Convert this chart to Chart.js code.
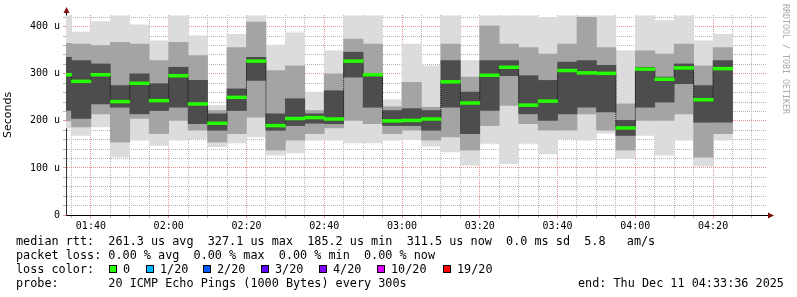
<!DOCTYPE html>
<html>
<head>
<meta charset="utf-8">
<script src="https://cdn.jsdelivr.net/npm/chart.js@4.4.1/dist/chart.umd.min.js"></script>
<style>
  html, body { margin: 0; padding: 0; background: #fff; }
  #wrap { position: relative; width: 797px; height: 297px; overflow: hidden; }
  #chart { position: absolute; left: 0; top: 0; }
  .txt { position: absolute; font-family: 'DejaVu Sans Mono', monospace; font-size: 11.8px; line-height: 14px; white-space: pre; color: #000; }
  .sq { position: absolute; top: 265px; width: 8px; height: 8px; box-sizing: border-box; border: 1px solid #000; }
  #credit { position: absolute; left: 781px; top: 4px; font-family: 'DejaVu Sans Mono', monospace; font-size: 8.3px; line-height: 10px; color: #aaa; writing-mode: vertical-rl; white-space: pre; }
</style>
</head>
<body>
<div id="wrap">
  <canvas id="chart" width="797" height="297"></canvas>
  <div id="credit">RRDTOOL / TOBI OETIKER</div>
  <div class="txt" style="left:16px; top:234px;">median rtt:  261.3 us avg  327.1 us max  185.2 us min  311.5 us now  0.0 ms sd  5.8   am/s</div>
  <div class="txt" style="left:16px; top:248px;">packet loss: 0.00 % avg  0.00 % max  0.00 % min  0.00 % now</div>
  <div class="txt" style="left:16px; top:262px;">loss color:</div>
  <div id="lossKey"></div>
  <div class="txt" style="left:16px; top:276px;">probe:       20 ICMP Echo Pings (1000 Bytes) every 300s</div>
  <div class="txt" style="left:578px; top:276px;">end: Thu Dec 11 04:33:36 2025</div>
</div>
<script>
// bar start times (5 minute steps)
const slots = ['01:30','01:35','01:40','01:45','01:50','01:55','02:00','02:05','02:10','02:15',
  '02:20','02:25','02:30','02:35','02:40','02:45','02:50','02:55','03:00','03:05',
  '03:10','03:15','03:20','03:25','03:30','03:35','03:40','03:45','03:50','03:55',
  '04:00','04:05','04:10','04:15','04:20'];

// smoke levels in microseconds
const smokeMax    = [423,388,411,423,404,370,423,381,233,384,423,361,387,261,349,423,423,245,363,317,423,328,423,423,423,420,423,423,423,349,423,413,423,370,384];
const smokeHiMid  = [365,363,360,367,363,328,367,339,222,356,410,307,317,222,300,374,363,230,282,229,363,293,402,363,356,342,363,420,356,236,349,342,363,317,356];
const smokeHiDark = [335,328,321,275,300,279,314,286,215,268,335,215,247,215,264,346,300,222,226,222,328,261,328,328,296,286,325,328,318,201,314,293,321,275,328];
const medianRtt   = [298,284,298,241,280,243,296,236,195,250,327,190,205,207,204,327,298,200,201,204,283,238,297,314,233.5,242,307,302,301,185,310,288.5,312.5,245,311];
const smokeLoDark = [222,205,236,229,215,222,229,194,180,222,286,180,190,195,194,293,229,190,190,180,229,173,222,296,215,201,215,229,219,169,229,240,279,197,197];
const smokeLoMid  = [200,187,215,155,205,173,201,180,155,173,208,138,159,173,185,201,194,173,180,159,166,138,190,233,194,180,180,215,180,138,201,201,215,123,173];
const smokeMin    = [185,169,187,123,159,148,159,162,145,153,166,127,132,159,159,153,153,159,160,146,134,106,152,109,152,130,162,159,174,120,169,127,159,104,159];

const timeLabels = ['01:40','02:00','02:20','02:40','03:00','03:20','03:40','04:00','04:20'];
const yTickValues = [0, 100, 200, 300, 400];
const yTickText = ['0', '100 u', '200 u', '300 u', '400 u'];

const lossLabels = ['0', '1/20', '2/20', '3/20', '4/20', '10/20', '19/20'];
const lossColors = ['#26ff00', '#00b8ff', '#0059ff', '#5e00ff', '#7e00ff', '#dd00ff', '#ff0000'];

const toMin = s => { const p = s.split(':'); return +p[0] * 60 + +p[1]; };
const fmtMin = m => String(Math.floor(m / 60)).padStart(2, '0') + ':' + String(m % 60).padStart(2, '0');
const startMin = 93.6, endMin = 273.6;
const xs = slots.map(s => toMin(s) + 2.5);

const band = (lo, hi) => xs.map((x, i) => ({ x: x, y: [lo[i], hi[i]] }));

const MAJOR = 'rgba(222,90,90,0.65)';
const MINOR = '#b4b4b4';

// loss colour key
const keyPos = [109, 146, 203, 261, 319, 377, 443];
const key = document.getElementById('lossKey');
lossLabels.forEach((l, i) => {
  const sq = document.createElement('div');
  sq.className = 'sq';
  sq.style.left = keyPos[i] + 'px';
  sq.style.background = lossColors[i];
  key.appendChild(sq);
  const t = document.createElement('div');
  t.className = 'txt';
  t.style.left = (keyPos[i] + 14) + 'px';
  t.style.top = '262px';
  t.textContent = l;
  key.appendChild(t);
});

const arrows = {
  id: 'arrows',
  afterDraw(chart) {
    const { ctx, chartArea: a } = chart;
    ctx.save();
    ctx.strokeStyle = '#000';
    ctx.lineWidth = 1;
    ctx.beginPath();
    ctx.moveTo(a.right, a.bottom + 0.5);
    ctx.lineTo(a.right + 3, a.bottom + 0.5);
    ctx.moveTo(a.left + 0.5, a.top);
    ctx.lineTo(a.left + 0.5, a.top - 3);
    ctx.stroke();
    ctx.fillStyle = '#7f1010';
    ctx.beginPath();
    ctx.moveTo(a.right + 2, a.bottom - 2.5);
    ctx.lineTo(a.right + 8, a.bottom + 0.5);
    ctx.lineTo(a.right + 2, a.bottom + 3.5);
    ctx.closePath();
    ctx.fill();
    ctx.beginPath();
    ctx.moveTo(a.left - 2.5, a.top - 2);
    ctx.lineTo(a.left + 0.5, a.top - 8);
    ctx.lineTo(a.left + 3.5, a.top - 2);
    ctx.closePath();
    ctx.fill();
    ctx.restore();
  }
};

const barDefaults = { type: 'bar', grouped: false, barPercentage: 1, categoryPercentage: 1, borderWidth: 0, clip: 0 };

new Chart(document.getElementById('chart'), {
  data: {
    datasets: [
      { ...barDefaults, label: 'smoke', data: band(smokeMin, smokeMax), backgroundColor: '#dcdcdc', order: 5 },
      { ...barDefaults, label: 'smoke mid', data: band(smokeLoMid, smokeHiMid), backgroundColor: '#a4a4a4', order: 4 },
      { ...barDefaults, label: 'smoke core', data: band(smokeLoDark, smokeHiDark), backgroundColor: '#4d4d4d', order: 3 },
      {
        type: 'line', label: 'median step', order: 2,
        data: xs.map((x, i) => ({ x: x, y: medianRtt[i] })),
        stepped: 'middle', borderColor: '#111', borderWidth: 1, borderDash: [1, 1],
        pointRadius: 0, fill: false
      },
      {
        ...barDefaults, label: 'median rtt', order: 1,
        data: xs.map((x, i) => ({ x: x, y: [medianRtt[i] - 3, medianRtt[i] + 3] })),
        backgroundColor: lossColors[0]
      }
    ]
  },
  options: {
    responsive: false,
    animation: false,
    events: [],
    layout: { padding: { left: 0, top: 15, right: 31, bottom: 62 } },
    plugins: { legend: { display: false }, tooltip: { enabled: false } },
    scales: {
      x: {
        type: 'linear',
        min: startMin,
        max: endMin,
        offset: false,
        afterBuildTicks(scale) {
          const t = [];
          for (let m = 95; m <= 270; m += 5) t.push({ value: m });
          scale.ticks = t;
        },
        afterFit(scale) { scale.height = 20; },
        ticks: {
          autoSkip: false,
          maxRotation: 0,
          padding: 2,
          color: '#000',
          font: { family: 'DejaVu Sans Mono', size: 10 },
          callback: v => { const s = fmtMin(Math.round(v)); return timeLabels.includes(s) ? s : ''; }
        },
        grid: {
          offset: false,
          color: c => (c.tick && c.tick.value % 20 === 0) ? MAJOR : MINOR,
          tickColor: c => (c.tick && c.tick.value % 20 === 0) ? MAJOR : MINOR,
          tickLength: 3
        },
        border: { display: true, color: '#000', width: 1, dash: [1, 1] }
      },
      y: {
        min: 0,
        max: 425,
        afterBuildTicks(scale) {
          const t = [];
          for (let v = 0; v <= 420; v += 20) t.push({ value: v });
          scale.ticks = t;
        },
        afterFit(scale) { scale.width = 66; },
        ticks: {
          autoSkip: false,
          padding: 3,
          color: '#000',
          font: { family: 'DejaVu Sans Mono', size: 10 },
          callback: v => { const i = yTickValues.indexOf(v); return i >= 0 ? yTickText[i] : ''; }
        },
        grid: {
          color: c => (c.tick && c.tick.value % 100 === 0) ? MAJOR : MINOR,
          tickColor: c => (c.tick && c.tick.value % 100 === 0) ? MAJOR : MINOR,
          tickLength: 3
        },
        border: { display: true, color: '#333', width: 1, dash: [1, 1] },
        title: {
          display: true,
          text: 'Seconds',
          color: '#000',
          font: { family: 'DejaVu Sans', size: 11 },
          padding: { top: 2, bottom: 0 }
        }
      }
    }
  },
  plugins: [arrows]
});
</script>
</body>
</html>
